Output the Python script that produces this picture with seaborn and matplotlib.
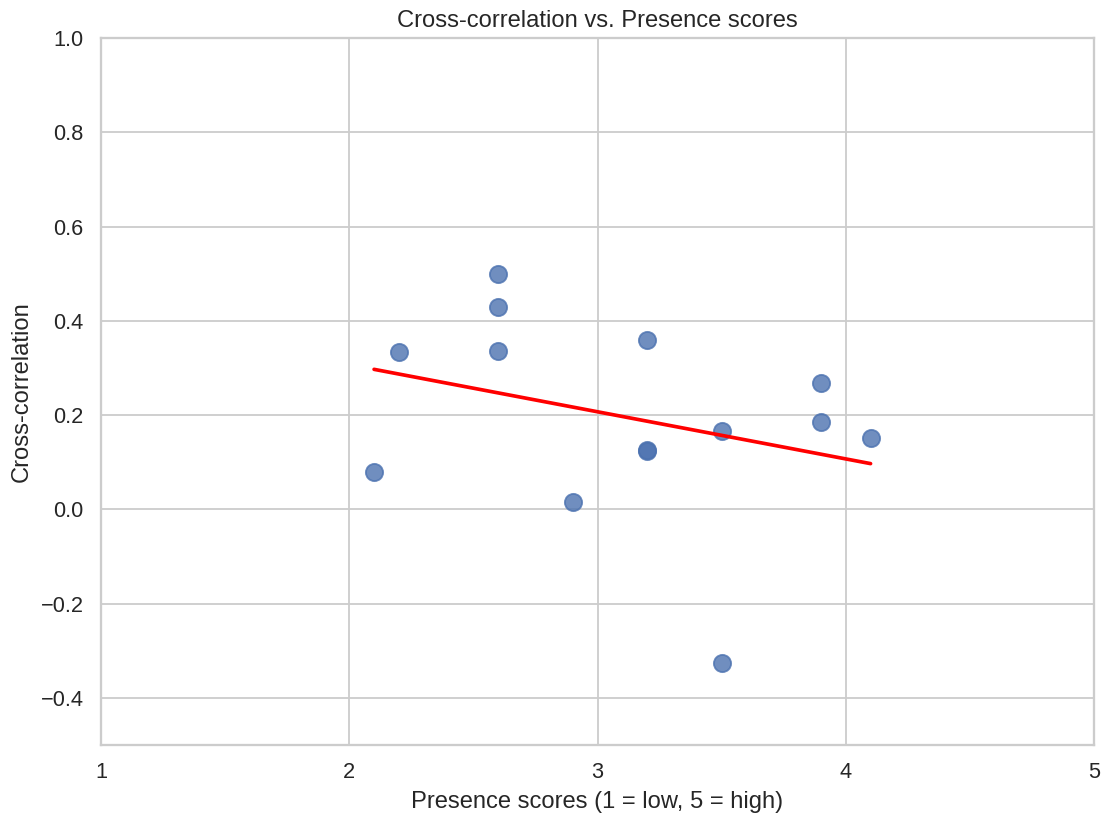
import matplotlib
matplotlib.use("Agg")
import matplotlib.pyplot as plt
import seaborn as sns
import pandas as pd

presence = [2.1, 2.2, 2.6, 2.6, 2.6, 2.9, 3.2, 3.2, 3.2, 3.5, 3.5, 3.9, 3.9, 4.1]
xcorr = [0.080, 0.333, 0.499, 0.430, 0.336, 0.015, 0.360, 0.126, 0.124,
         0.166, -0.327, 0.269, 0.185, 0.152]
x_ticks = [1, 2, 3, 4, 5]
y_ticks = [-0.4, -0.2, 0.0, 0.2, 0.4, 0.6, 0.8, 1.0]

df = pd.DataFrame({"presence": presence, "xcorr": xcorr})

sns.set_theme(style="whitegrid", context="notebook", font_scale=1.08)
plt.rcParams["font.family"] = ["Liberation Sans", "DejaVu Sans"]

DPI = 132
fig = plt.figure(figsize=(1102 / DPI, 816 / DPI), dpi=DPI)
ax = fig.add_axes([101 / 1102, 1 - 745 / 816, (1094 - 101) / 1102, (745 - 38) / 816])

sns.regplot(data=df, x="presence", y="xcorr", ax=ax, ci=None,
            scatter_kws={"s": 88},
            line_kws={"color": "red", "linewidth": 2})

ax.set_xlim(1, 5)
ax.set_ylim(-0.5, 1.0)
ax.set_xticks(x_ticks)
ax.set_yticks(y_ticks)
ax.set_xlabel("Presence scores (1 = low, 5 = high)")
ax.set_ylabel("Cross-correlation")
ax.set_title("Cross-correlation vs. Presence scores")

fig.savefig("out.png", dpi=DPI)
